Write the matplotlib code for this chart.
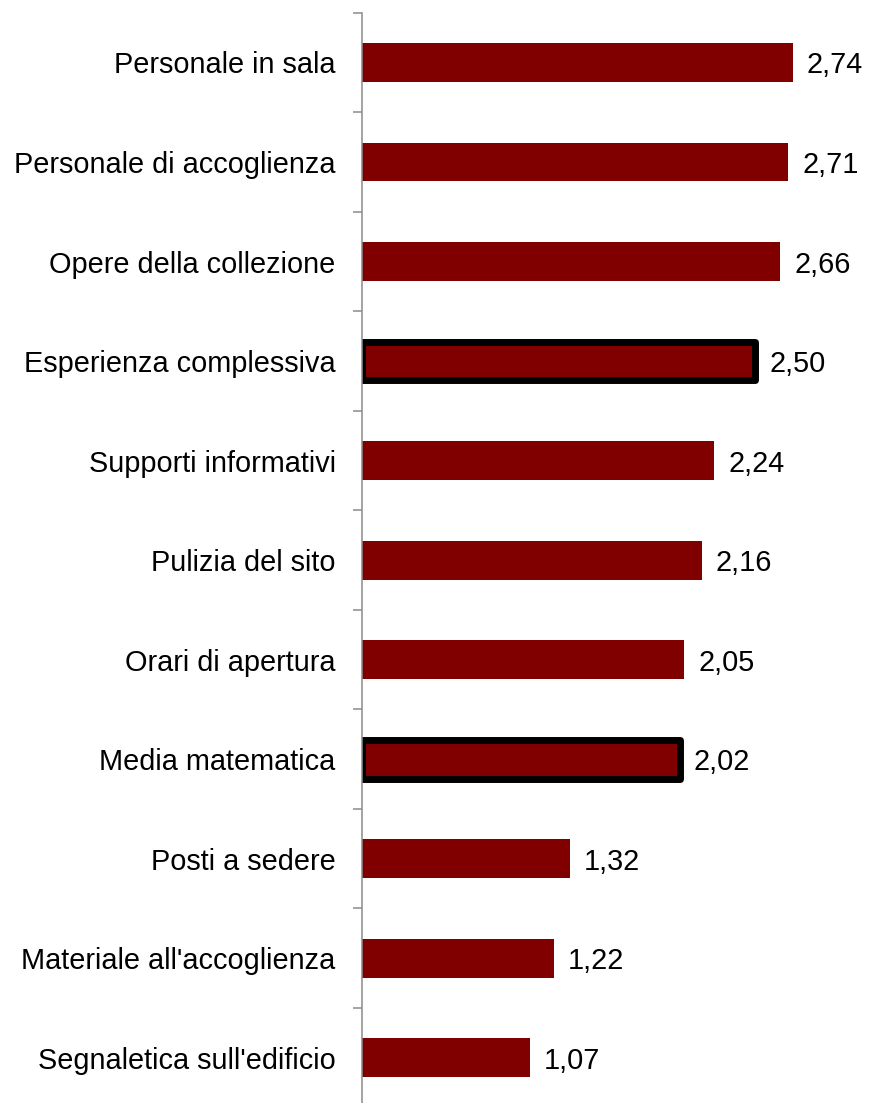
import matplotlib.pyplot as plt
from matplotlib.ticker import FixedLocator

plt.rcParams["font.family"] = ["Liberation Sans", "DejaVu Sans"]

categories = [
    "Personale in sala",
    "Personale di accoglienza",
    "Opere della collezione",
    "Esperienza complessiva",
    "Supporti informativi",
    "Pulizia del sito",
    "Orari di apertura",
    "Media matematica",
    "Posti a sedere",
    "Materiale all'accoglienza",
    "Segnaletica sull'edificio",
]
values = [2.74, 2.71, 2.66, 2.50, 2.24, 2.16, 2.05, 2.02, 1.32, 1.22, 1.07]
highlighted = ["Esperienza complessiva", "Media matematica"]

BAR_COLOR = "#800000"
AXIS_COLOR = "#8c8c8c"
FONT_SIZE = 20.8


def value_label(v):
    return f"{v:.2f}".replace(".", ",")


def main():
    fig = plt.figure(figsize=(8.69, 11.03), dpi=100)
    ax = fig.add_axes([0.4166, -0.00408, 0.5834, 0.99257])

    y = list(range(len(categories)))
    for i, (cat, v) in enumerate(zip(categories, values)):
        if cat in highlighted:
            ax.barh(i, v, height=0.39, color=BAR_COLOR, edgecolor="black",
                    linewidth=5, joinstyle="round", zorder=2)
        else:
            ax.barh(i, v, height=0.39, color=BAR_COLOR, linewidth=0, zorder=2)
        ax.annotate(value_label(v), xy=(v, i), xytext=(10, 0),
                    textcoords="offset points", va="center_baseline", ha="left",
                    fontsize=FONT_SIZE, color="black")

    ax.set_xlim(0, 0.5834 * 869 / 157.3)
    ax.set_ylim(len(categories) - 0.5, -0.5)

    ax.set_yticks(y)
    ax.set_yticklabels(categories, fontsize=FONT_SIZE)
    ax.tick_params(axis="y", which="major", length=0, pad=19)
    ax.yaxis.set_minor_locator(FixedLocator([i - 0.5 for i in range(len(categories) + 1)]))
    ax.tick_params(axis="y", which="minor", length=6.5, width=1.1, color=AXIS_COLOR)
    ax.set_xticks([])

    for side in ["top", "right", "bottom"]:
        ax.spines[side].set_visible(False)
    ax.spines["left"].set_color(AXIS_COLOR)
    ax.spines["left"].set_linewidth(1.1)
    ax.spines["left"].set_zorder(3)

    fig.savefig("out.png", dpi=100)
    plt.close(fig)


if __name__ == "__main__":
    main()
